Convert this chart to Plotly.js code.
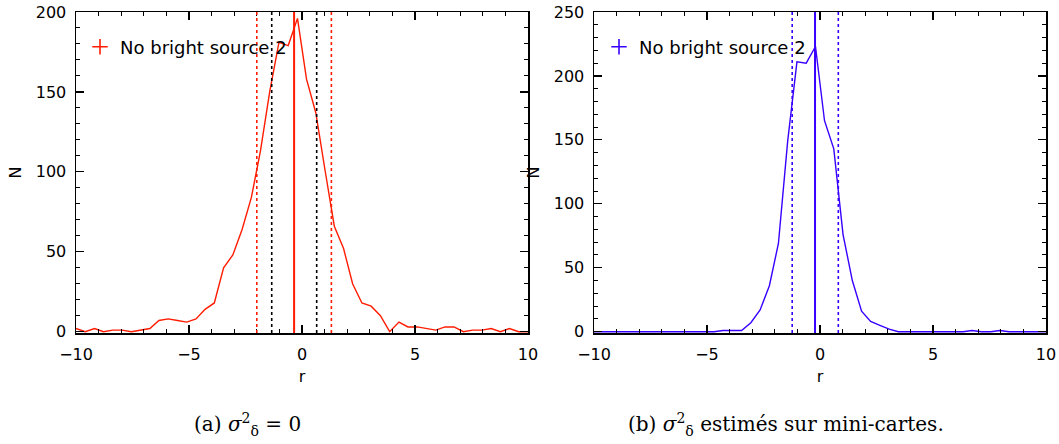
<!DOCTYPE html>
<html>
<head>
<meta charset="utf-8">
<script src="https://cdn.plot.ly/plotly-3.0.1.min.js"></script>
<style>
html,body{margin:0;padding:0;background:#fff;}
#chart{width:1059px;height:444px;}
</style>
</head>
<body>
<div id="chart"></div>
<script>
// bin positions r
const r = [-10.00,-9.59,-9.18,-8.78,-8.37,-7.96,-7.55,-7.14,-6.73,-6.33,
           -5.92,-5.51,-5.10,-4.69,-4.29,-3.88,-3.47,-3.06,-2.65,-2.24,
           -1.84,-1.43,-1.02,-0.61,-0.20,0.20,0.61,1.02,1.43,1.84,
           2.24,2.65,3.06,3.47,3.88,4.29,4.69,5.10,5.51,5.92,
           6.33,6.73,7.14,7.55,7.96,8.37,8.78,9.18,9.59,10.00];
// (a) sigma^2 = 0
const nA = [2,0,2,0,1,1,0,1,2,7,
            8,7,6,8,14,18,40,48,64,84,
            113,150,181,179,196,158,137,101,66,52,
            30,18,16,10,0,6,3,3,2,1,
            3,3,0,1,1,2,0,2,0,0];
// (b) sigma^2 estimated on mini-maps
const nB = [0,0,0,0,0,0,0,0,0,0,
            0,0,0,0,1,1,1,7,17,36,
            69,149,211,210,223,165,143,76,40,16,
            8,5,2,0,0,0,0,0,0,0,
            0,1,0,0,1,0,0,0,0,0];
const meanA = -0.35;
const redDotsA = [-2.00, 1.30];
const blackDotsA = [-1.34, 0.65];
const meanB = -0.22;
const blueDotsB = [-1.23, 0.81];
const legendText = 'No bright source 2';
const xTicks = [-10, -5, 0, 5, 10];
const captionA = '(a) <i>σ</i><sup>2</sup><sub>δ</sub> = 0';
const captionB = '(b) <i>σ</i><sup>2</sup><sub>δ</sub> estimés sur mini-cartes.';

const RED = 'rgb(255,28,0)';
const BLUE = 'rgb(56,0,255)';
const FONT = 'DejaVu Sans';

const traces = [
  {x: r, y: nA, xaxis: 'x', yaxis: 'y', mode: 'lines', line: {color: RED, width: 1.4}, showlegend: false},
  {x: r, y: nB, xaxis: 'x2', yaxis: 'y2', mode: 'lines', line: {color: BLUE, width: 1.4}, showlegend: false},
  {x: [null], y: [null], xaxis: 'x', yaxis: 'y', mode: 'markers', name: legendText,
   marker: {symbol: 'cross-thin', size: 11, line: {color: RED, width: 1.6}}, legend: 'legend'},
  {x: [null], y: [null], xaxis: 'x2', yaxis: 'y2', mode: 'markers', name: legendText,
   marker: {symbol: 'cross-thin', size: 11, line: {color: BLUE, width: 1.6}}, legend: 'legend2'}
];

function vline(xref, yref, xv, color, dash, width) {
  return {type: 'line', xref: xref, yref: yref + ' domain', x0: xv, x1: xv, y0: 0, y1: 1,
          line: {color: color, dash: dash, width: width}};
}
const shapes = [
  vline('x', 'y', meanA, RED, 'solid', 2),
  ...redDotsA.map(v => vline('x', 'y', v, RED, 'dot', 1.6)),
  ...blackDotsA.map(v => vline('x', 'y', v, 'black', 'dot', 1.6)),
  vline('x2', 'y2', meanB, BLUE, 'solid', 2),
  ...blueDotsB.map(v => vline('x2', 'y2', v, BLUE, 'dot', 1.6))
];

function xax(domain) {
  return {domain: domain, range: [-10, 10], tickvals: xTicks, ticks: 'inside', ticklen: 8, tickwidth: 1.2,
    tickcolor: 'black', minor: {dtick: 1, ticks: 'inside', ticklen: 4, tickwidth: 1, tickcolor: 'black'},
    showline: true, linecolor: 'black', linewidth: 1.5, mirror: 'allticks', showgrid: false, zeroline: false,
    tickfont: {family: FONT, size: 16, color: 'black'}, ticklabelstandoff: 6,
    title: {text: 'r', font: {family: FONT, size: 16, color: 'black'}, standoff: 8}, automargin: false};
}
function yax(domain, top, anchor) {
  return {domain: domain, range: [-0.8 * top / 200, top], dtick: 50, tick0: 0, ticks: 'inside', ticklen: 8, tickwidth: 1.2,
    tickcolor: 'black', minor: {dtick: 10, ticks: 'inside', ticklen: 4, tickwidth: 1, tickcolor: 'black'},
    showline: true, linecolor: 'black', linewidth: 1.5, mirror: 'allticks', showgrid: false, zeroline: false,
    tickfont: {family: FONT, size: 16, color: 'black'}, ticklabelstandoff: 5, anchor: anchor,
    title: {text: 'N', font: {family: FONT, size: 16, color: 'black'}, standoff: 10}, automargin: false};
}

const yDom = [1 - 333 / 444, 1 - 12 / 444];
const layout = {
  width: 1059, height: 444,
  margin: {l: 0, r: 0, t: 0, b: 0},
  paper_bgcolor: 'white', plot_bgcolor: 'white',
  font: {family: FONT, color: 'black'},
  xaxis: Object.assign(xax([76 / 1059, 528 / 1059]), {anchor: 'y'}),
  yaxis: yax(yDom, 200, 'x'),
  xaxis2: Object.assign(xax([594 / 1059, 1046 / 1059]), {anchor: 'y2'}),
  yaxis2: yax(yDom, 250, 'x2'),
  shapes: shapes,
  legend: {x: 80 / 1059, y: 1 - 47 / 444, xanchor: 'left', yanchor: 'middle', bgcolor: 'rgba(0,0,0,0)',
           font: {family: FONT, size: 18, color: 'black'}, borderwidth: 0},
  legend2: {x: 599 / 1059, y: 1 - 47 / 444, xanchor: 'left', yanchor: 'middle', bgcolor: 'rgba(0,0,0,0)',
           font: {family: FONT, size: 18, color: 'black'}, borderwidth: 0},
  annotations: [
    {text: captionA, xref: 'paper', yref: 'paper', x: 247 / 1059, y: 1 - 424 / 444, xanchor: 'center', yanchor: 'middle',
     showarrow: false, font: {family: 'DejaVu Serif', size: 20, color: 'black'}},
    {text: captionB, xref: 'paper', yref: 'paper', x: 786 / 1059, y: 1 - 424 / 444, xanchor: 'center', yanchor: 'middle',
     showarrow: false, font: {family: 'DejaVu Serif', size: 20, color: 'black'}}
  ]
};

Plotly.newPlot('chart', traces, layout, {staticPlot: true, displayModeBar: false});
</script>
</body>
</html>
